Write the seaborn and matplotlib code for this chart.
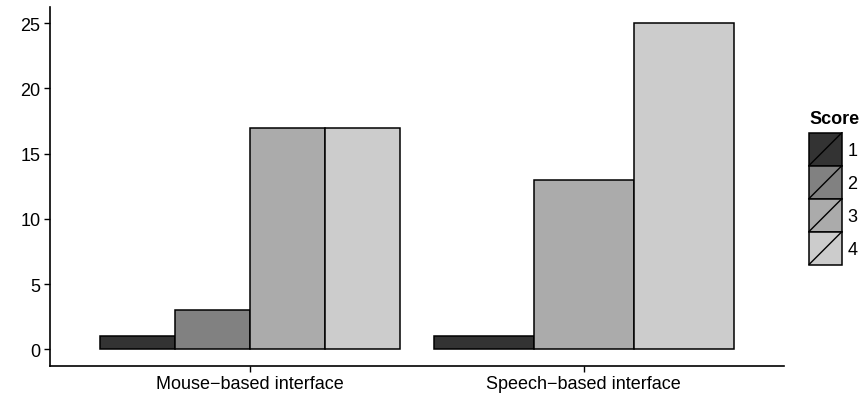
import matplotlib
matplotlib.use("Agg")
import matplotlib.pyplot as plt
import seaborn as sns
import pandas as pd
from matplotlib.patches import Rectangle
from matplotlib.lines import Line2D
from matplotlib.legend_handler import HandlerBase

# Data
interfaces = ["Mouse\u2212based interface", "Speech\u2212based interface"]
score_levels = ["1", "2", "3", "4"]
mouse_scores = ["1", "2", "3", "4"]
mouse_counts = [1, 3, 17, 17]
speech_scores = ["1", "3", "4"]
speech_counts = [1, 13, 25]
grey_fills = ["#333333", "#818181", "#ABABAB", "#CCCCCC"]
y_ticks = [0, 5, 10, 15, 20, 25]

palette = dict(zip(score_levels, grey_fills))

df_mouse = pd.DataFrame({"Interface": interfaces[0], "Score": mouse_scores, "Count": mouse_counts})
df_speech = pd.DataFrame({"Interface": interfaces[1], "Score": speech_scores, "Count": speech_counts})

sns.set_theme(style="white")
plt.rcParams["font.family"] = ["Liberation Sans", "DejaVu Sans"]
plt.rcParams["text.color"] = "black"

fs = 13

fig = plt.figure(figsize=(8.66, 4.02), dpi=100)
ax = fig.add_axes([50 / 866, 35.5 / 402, 734 / 866, 358.5 / 402])

common = dict(x="Interface", y="Count", hue="Score", order=interfaces, palette=palette,
              width=0.9, dodge=True, edgecolor="black", linewidth=1.1, saturation=1,
              errorbar=None, legend=False, ax=ax)
sns.barplot(data=df_mouse, hue_order=mouse_scores, **common)
sns.barplot(data=df_speech, hue_order=speech_scores, **common)

ax.set_xlim(-0.6, 1.6)
ax.set_ylim(-1.25, 26.25)
ax.set_yticks(y_ticks)
ax.set_xlabel("")
ax.set_ylabel("")
ax.set_facecolor("white")
for side in ("top", "right"):
    ax.spines[side].set_visible(False)
for side in ("left", "bottom"):
    ax.spines[side].set_color("black")
    ax.spines[side].set_linewidth(1.2)
ax.tick_params(axis="both", which="both", direction="out", length=4, width=1.0,
               color="black", labelsize=fs, labelcolor="black", pad=3,
               left=True, bottom=True)


class SlashKeyHandler(HandlerBase):
    def create_artists(self, legend, orig_handle, xdescent, ydescent, width, height, fontsize, trans):
        x0, y0 = -xdescent, -ydescent
        rect = Rectangle((x0, y0), width, height, facecolor=orig_handle.get_facecolor(),
                         edgecolor="black", linewidth=1.1, transform=trans)
        slash = Line2D([x0, x0 + width], [y0, y0 + height], color="black", linewidth=1.0,
                       transform=trans)
        return [rect, slash]


handles = [Rectangle((0, 0), 1, 1, facecolor=c) for c in grey_fills]
# legend key boxes of 33 px square
key_pt = 33 * 72 / 100
key_len = key_pt / fs
key_h = (key_pt / fs - 0.245) / 0.65
leg = fig.legend(handles, score_levels, title="Score", loc="upper left",
                 bbox_to_anchor=(809 / 866, 1 - 111 / 402), bbox_transform=fig.transFigure,
                 frameon=False, fontsize=fs, title_fontproperties={"weight": "bold", "size": fs},
                 labelcolor="black",
                 handler_map={Rectangle: SlashKeyHandler()},
                 handlelength=key_len, handleheight=key_h, labelspacing=0.0, handletextpad=0.3,
                 borderpad=0.0, borderaxespad=0)
leg.get_title().set_color("black")
leg._legend_box.align = "left"
leg._legend_box.sep = 4

fig.savefig("out.png", dpi=100, facecolor="white")
